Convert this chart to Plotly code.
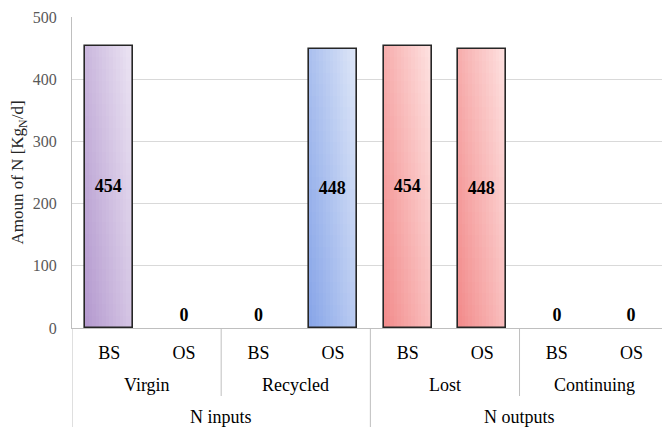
import plotly.graph_objects as go

# ---- data ----
top_groups = ["N inputs", "N outputs"]
mid_groups = ["Virgin", "Recycled", "Lost", "Continuing"]
sub_labels = ["BS", "OS", "BS", "OS", "BS", "OS", "BS", "OS"]
values = [454, 0, 0, 448, 454, 448, 0, 0]
y_ticks = [0, 100, 200, 300, 400, 500]

# gradient colours (dark bottom-left -> light top-right) per mid group
grad_dark = {"Virgin": "#B398CE", "Recycled": "#86A4E8", "Lost": "#F28A8A", "Continuing": "#F28A8A"}
grad_light = {"Virgin": "#EDE6F4", "Recycled": "#E0E8F8", "Lost": "#FEE3E2", "Continuing": "#FEE3E2"}

FONT = "Liberation Serif"
n = len(values)
pos = list(range(n))
per_mid = n // len(mid_groups)
per_top = n // len(top_groups)
mid_of = [mid_groups[i // per_mid] for i in pos]
BW = 0.645


def hex2rgb(h):
    h = h.lstrip("#")
    return [int(h[i:i + 2], 16) for i in (0, 2, 4)]


def mix(a, b, t):
    ca, cb = hex2rgb(a), hex2rgb(b)
    return "rgb(%d,%d,%d)" % tuple(round(ca[k] + (cb[k] - ca[k]) * t) for k in range(3))


# gradient fill built from many thin bar cells
NC, NR = 14, 24
gx, gy, gbase, goff, gw, gcol = [], [], [], [], [], []
for i in pos:
    v = values[i]
    if v <= 0:
        continue
    for c in range(NC):
        for r in range(NR):
            u = (c + 0.5) / NC
            w = (r + 0.5) / NR
            t = 0.6 * u + 0.4 * w
            gx.append(i)
            gbase.append(v * r / NR)
            gy.append(v / NR * (1.0 if r == NR - 1 else 1.15))
            goff.append(-BW / 2 + c * BW / NC)
            gw.append(BW / NC * (1.0 if c == NC - 1 else 1.2))
            gcol.append(mix(grad_dark[mid_of[i]], grad_light[mid_of[i]], t))

fig = go.Figure()
fig.add_trace(go.Bar(
    x=gx, y=gy, base=gbase, offset=goff, width=gw,
    marker=dict(color=gcol, line=dict(width=0)),
    hoverinfo="skip", showlegend=False,
))

fig.add_trace(go.Bar(
    x=pos, y=values, width=BW,
    marker=dict(color="rgba(0,0,0,0)",
                line=dict(color="#262626", width=[1.6 if v > 0 else 0 for v in values])),
    text=[str(v) for v in values],
    texttemplate="<b>%{text}</b>",
    textposition=["inside" if v > 0 else "outside" for v in values],
    insidetextanchor="middle",
    insidetextfont=dict(family=FONT, size=18, color="#000000"),
    outsidetextfont=dict(family=FONT, size=18, color="#000000"),
    cliponaxis=False, showlegend=False,
))

H_PLOT = 311.0
shapes = []
# left edge extension of axis
shapes.append(dict(type="line", xref="x", yref="paper", x0=-0.5, x1=-0.5, y0=0, y1=-99 / H_PLOT,
                   line=dict(color="#BFBFBF", width=1)))
for k in range(1, len(mid_groups)):
    xb = k * per_mid - 0.5
    is_top = (k * per_mid) % per_top == 0
    shapes.append(dict(type="line", xref="x", yref="paper", x0=xb, x1=xb, y0=0,
                       y1=(-99 if is_top else -68) / H_PLOT,
                       line=dict(color="#BFBFBF", width=1)))

annotations = []
for k, g in enumerate(mid_groups):
    annotations.append(dict(x=k * per_mid + (per_mid - 1) / 2, y=-57 / H_PLOT, xref="x", yref="paper",
                            text=g, showarrow=False, yanchor="middle",
                            font=dict(family=FONT, size=18, color="#000000")))
for k, g in enumerate(top_groups):
    annotations.append(dict(x=k * per_top + (per_top - 1) / 2, y=-89 / H_PLOT, xref="x", yref="paper",
                            text=g, showarrow=False, yanchor="middle",
                            font=dict(family=FONT, size=18, color="#000000")))

fig.update_layout(
    width=662, height=427,
    margin=dict(l=72, r=0, t=17, b=99),
    paper_bgcolor="white", plot_bgcolor="white",
    barmode="overlay",
    bargap=0,
    shapes=shapes, annotations=annotations,
    font=dict(family=FONT),
)
fig.update_xaxes(
    range=[-0.5, 7.41], tickmode="array", tickvals=pos, ticktext=sub_labels,
    showline=True, linecolor="#BFBFBF", linewidth=1, showgrid=False, zeroline=False,
    ticks="", ticklabelstandoff=8,
    tickfont=dict(family=FONT, size=18, color="#000000"),
)
fig.update_yaxes(
    range=[0, 500], tickmode="array", tickvals=y_ticks,
    showline=True, linecolor="#BFBFBF", linewidth=1,
    showgrid=True, gridcolor="#D9D9D9", gridwidth=1, zeroline=False,
    ticks="", ticklabelstandoff=11,
    tickfont=dict(family=FONT, size=16, color="#595959"),
    title=dict(text="Amoun of N [Kg<sub>N</sub>/d]", standoff=4,
               font=dict(family=FONT, size=17, color="#262626")),
)

fig.write_html("out.html", config={"displayModeBar": False},
               post_script="document.body.style.margin='0px';")
